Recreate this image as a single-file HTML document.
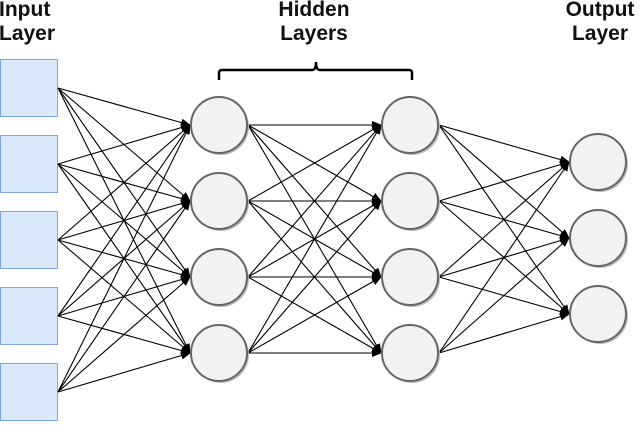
<!DOCTYPE html>
<html><head><style>
html,body{margin:0;padding:0;background:#fff;}
svg{display:block;}
text{font-family:"Liberation Sans",Arial,sans-serif;font-weight:bold;font-size:21px;fill:#111;}
</style></head><body>
<svg width="640" height="426" viewBox="0 0 640 426" xmlns="http://www.w3.org/2000/svg">
<defs><marker id="a" markerWidth="10" markerHeight="8" refX="9" refY="4" orient="auto" markerUnits="userSpaceOnUse"><path d="M0,0 L10,4 L0,8 z" fill="#000"/></marker></defs>
<text x="-1" y="16">Input</text><text x="-1" y="40">Layer</text>
<text x="314" y="16" text-anchor="middle">Hidden</text><text x="314" y="40" text-anchor="middle">Layers</text>
<text x="600" y="16" text-anchor="middle">Output</text><text x="600" y="40" text-anchor="middle">Layer</text>
<path d="M219,80 V73 Q219,70 222,70 H312 Q316,70 316,62 Q316,70 320,70 H409 Q412,70 412,73 V80" fill="none" stroke="#000" stroke-width="2.5"/>
<g fill="#dae8fc" stroke="#7ea6e0" stroke-width="1">
<rect x="0.5" y="59.5" width="57" height="57"/><rect x="0.5" y="135.5" width="57" height="57"/><rect x="0.5" y="211.5" width="57" height="57"/><rect x="0.5" y="287.5" width="57" height="57"/><rect x="0.5" y="363.5" width="57" height="57"/>
</g>
<g stroke="#000" stroke-width="1.1" marker-end="url(#a)">
<line x1="58" y1="88" x2="190" y2="125"/><line x1="58" y1="88" x2="190" y2="201"/><line x1="58" y1="88" x2="190" y2="277"/><line x1="58" y1="88" x2="190" y2="353"/>
<line x1="58" y1="164" x2="190" y2="125"/><line x1="58" y1="164" x2="190" y2="201"/><line x1="58" y1="164" x2="190" y2="277"/><line x1="58" y1="164" x2="190" y2="353"/>
<line x1="58" y1="240" x2="190" y2="125"/><line x1="58" y1="240" x2="190" y2="201"/><line x1="58" y1="240" x2="190" y2="277"/><line x1="58" y1="240" x2="190" y2="353"/>
<line x1="58" y1="316" x2="190" y2="125"/><line x1="58" y1="316" x2="190" y2="201"/><line x1="58" y1="316" x2="190" y2="277"/><line x1="58" y1="316" x2="190" y2="353"/>
<line x1="58" y1="392" x2="190" y2="125"/><line x1="58" y1="392" x2="190" y2="201"/><line x1="58" y1="392" x2="190" y2="277"/><line x1="58" y1="392" x2="190" y2="353"/>
<line x1="248" y1="125" x2="381" y2="125"/><line x1="248" y1="125" x2="381" y2="201"/><line x1="248" y1="125" x2="381" y2="277"/><line x1="248" y1="125" x2="381" y2="353"/>
<line x1="248" y1="201" x2="381" y2="125"/><line x1="248" y1="201" x2="381" y2="201"/><line x1="248" y1="201" x2="381" y2="277"/><line x1="248" y1="201" x2="381" y2="353"/>
<line x1="248" y1="277" x2="381" y2="125"/><line x1="248" y1="277" x2="381" y2="201"/><line x1="248" y1="277" x2="381" y2="277"/><line x1="248" y1="277" x2="381" y2="353"/>
<line x1="248" y1="353" x2="381" y2="125"/><line x1="248" y1="353" x2="381" y2="201"/><line x1="248" y1="353" x2="381" y2="277"/><line x1="248" y1="353" x2="381" y2="353"/>
<line x1="439" y1="125" x2="569" y2="162"/><line x1="439" y1="125" x2="569" y2="238"/><line x1="439" y1="125" x2="569" y2="314"/>
<line x1="439" y1="201" x2="569" y2="162"/><line x1="439" y1="201" x2="569" y2="238"/><line x1="439" y1="201" x2="569" y2="314"/>
<line x1="439" y1="277" x2="569" y2="162"/><line x1="439" y1="277" x2="569" y2="238"/><line x1="439" y1="277" x2="569" y2="314"/>
<line x1="439" y1="353" x2="569" y2="162"/><line x1="439" y1="353" x2="569" y2="238"/><line x1="439" y1="353" x2="569" y2="314"/>
</g>
<g fill="#bbb">
<circle cx="221" cy="127" r="28"/><circle cx="221" cy="203" r="28"/><circle cx="221" cy="279" r="28"/><circle cx="221" cy="355" r="28"/>
<circle cx="412" cy="127" r="28"/><circle cx="412" cy="203" r="28"/><circle cx="412" cy="279" r="28"/><circle cx="412" cy="355" r="28"/>
<circle cx="600" cy="164" r="28"/><circle cx="600" cy="240" r="28"/><circle cx="600" cy="316" r="28"/>
</g>
<g fill="#f2f2f2" stroke="#666" stroke-width="2">
<circle cx="219" cy="125" r="28"/><circle cx="219" cy="201" r="28"/><circle cx="219" cy="277" r="28"/><circle cx="219" cy="353" r="28"/>
<circle cx="410" cy="125" r="28"/><circle cx="410" cy="201" r="28"/><circle cx="410" cy="277" r="28"/><circle cx="410" cy="353" r="28"/>
<circle cx="598" cy="162" r="28"/><circle cx="598" cy="238" r="28"/><circle cx="598" cy="314" r="28"/>
</g>
</svg>
</body></html>
